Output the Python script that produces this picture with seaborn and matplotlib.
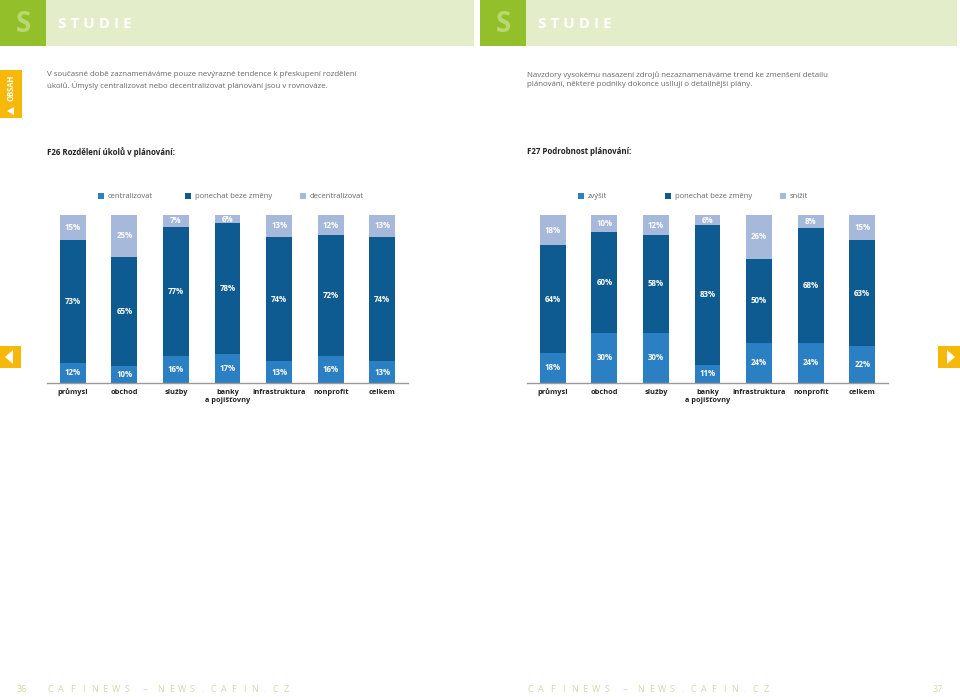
import matplotlib
matplotlib.use("Agg")
import matplotlib.pyplot as plt
from matplotlib.patches import Rectangle, Polygon
import seaborn as sns
import numpy as np
import pandas as pd

# --- data -------------------------------------------------------------
categories = ["průmysl", "obchod", "služby", "banky\na pojišťovny",
              "infrastruktura", "nonprofit", "celkem"]

# F26 Rozdělení úkolů v plánování
f26_labels = ["centralizovat", "ponechat beze změny", "decentralizovat"]
f26_central = [12, 10, 16, 17, 13, 16, 13]
f26_keep = [73, 65, 77, 78, 74, 72, 74]
f26_decentral = [15, 25, 7, 6, 13, 12, 13]

# F27 Podrobnost plánování
f27_labels = ["zvýšit", "ponechat beze změny", "snížit"]
f27_raise = [18, 30, 30, 11, 24, 24, 22]
f27_keep = [64, 60, 58, 83, 50, 68, 63]
f27_lower = [18, 10, 12, 6, 26, 8, 15]

# --- style ------------------------------------------------------------
sns.set_style("white")
plt.rcParams["font.family"] = ["Open Sans", "DejaVu Sans"]

C_MID = "#2a80c2"
C_DARK = "#0e5b92"
C_LIGHT = "#a7b9db"
GREEN = "#93c02a"
GREEN_BAND = "#e4edc9"
ORANGE = "#f6b90a"
FOOT = "#cfdca6"
TEXT = "#666666"

W, H = 960, 697
fig = plt.figure(figsize=(W / 100, H / 100), dpi=100)
fig.patch.set_facecolor("white")

# background axes in pixel coordinates for the page furniture
bg = fig.add_axes([0, 0, 1, 1])
bg.set_xlim(0, W)
bg.set_ylim(H, 0)
bg.axis("off")


def header(x0, x1):
    bg.add_patch(Rectangle((x0, 0), 46, 46, color=GREEN, lw=0))
    bg.add_patch(Rectangle((x0 + 46, 0), x1 - x0 - 46, 46, color=GREEN_BAND, lw=0))
    bg.text(x0 + 23, 25, "S", color="#b9d86f", fontsize=20, fontweight="bold",
            ha="center", va="center")
    bg.text(x0 + 58, 24, "S T U D I E", color="white", fontsize=11,
            fontweight="bold", ha="left", va="center")


header(0, 474)
header(480, 957)

# OBSAH tab and page arrows
bg.add_patch(Rectangle((0, 70), 22, 48, color=ORANGE, lw=0))
bg.text(11, 88, "OBSAH", rotation=90, color="white", fontsize=5.5,
        fontweight="bold", ha="center", va="center")
bg.add_patch(Polygon([[7, 111], [14, 107], [14, 115]], color="white", lw=0))
bg.add_patch(Rectangle((0, 346), 21, 22, color=ORANGE, lw=0))
bg.add_patch(Polygon([[5, 357], [13, 350], [13, 364]], color="white", lw=0))
bg.add_patch(Rectangle((938, 346), 22, 22, color=ORANGE, lw=0))
bg.add_patch(Polygon([[955, 357], [947, 350], [947, 364]], color="white", lw=0))

# intro texts
bg.text(47, 71, "V současné době zaznamenáváme pouze nevýrazné tendence k přeskupení rozdělení\n"
        "úkolů. Úmysly centralizovat nebo decentralizovat plánování jsou v rovnováze.",
        color=TEXT, fontsize=5.7, ha="left", va="top", linespacing=1.5)
bg.text(527, 71, "Navzdory vysokému nasazení zdrojů nezaznamenáváme trend ke zmenšení detailu\n"
        "plánování, některé podniky dokonce usilují o detailnější plány.",
        color=TEXT, fontsize=5.7, ha="left", va="top", linespacing=1.5)

# chart titles
bg.text(47, 152, "F26 Rozdělení úkolů v plánování:", color="#222222", fontsize=5.7,
        fontweight="bold", ha="left", va="center")
bg.text(527, 152, "F27 Podrobnost plánování:", color="#222222", fontsize=5.7,
        fontweight="bold", ha="left", va="center")


# footer with wide letter spacing
def footer(x0):
    for i, ch in enumerate("CAFINEWS"):
        bg.text(x0 + 11 * i, 690, ch, color=FOOT, fontsize=6.5,
                ha="center", va="center")
    bg.text(x0 + 95, 690, "–", color=FOOT, fontsize=6.5, ha="center", va="center")
    for i, ch in enumerate("NEWS.CAFIN.CZ"):
        bg.text(x0 + 111 + 10.4 * i, 690, ch, color=FOOT, fontsize=6.5,
                ha="center", va="center")


footer(50)
footer(530)
bg.text(22, 690, "36", color=FOOT, fontsize=6.5, ha="center", va="center")
bg.text(938, 690, "37", color=FOOT, fontsize=6.5, ha="center", va="center")


def legend(x0, labels):
    offsets = [0, 87, 202]
    colors = [C_MID, C_DARK, C_LIGHT]
    for off, lab, col in zip(offsets, labels, colors):
        bg.add_patch(Rectangle((x0 + off - 3, 193), 6, 6, color=col, lw=0))
        bg.text(x0 + off + 7, 196, lab, color=TEXT, fontsize=5.5,
                ha="left", va="center")


legend(101, f26_labels)
legend(581, f27_labels)


def stacked(left_px, bottom_vals, mid_vals, top_vals):
    ax = fig.add_axes([left_px / W, (H - 383) / H, 361 / W, 168 / H])
    bottom = np.array(bottom_vals)
    mid = np.array(mid_vals)
    top = np.array(top_vals)
    df = pd.DataFrame({"cat": categories,
                       "total": bottom + mid + top,
                       "lower2": bottom + mid,
                       "lower1": bottom})
    # draw cumulative sums, tallest first, so they appear stacked
    for col, color in [("total", C_LIGHT), ("lower2", C_DARK), ("lower1", C_MID)]:
        sns.barplot(data=df, x="cat", y=col, color=color, saturation=1,
                    width=0.5, ax=ax, linewidth=0)
    for i in range(len(categories)):
        segs = [(0, bottom[i]), (bottom[i], bottom[i] + mid[i]),
                (bottom[i] + mid[i], bottom[i] + mid[i] + top[i])]
        for (lo, hi) in segs:
            ax.text(i, (lo + min(hi, 100)) / 2, f"{hi - lo}%", color="white",
                    fontsize=5.7, fontweight="bold", ha="center", va="center")
    ax.set_xlim(-0.5, 6.5)
    ax.set_ylim(0, 100)
    ax.set_xlabel("")
    ax.set_ylabel("")
    ax.set_yticks([])
    ax.tick_params(axis="x", length=0, pad=4)
    for lab in ax.get_xticklabels():
        lab.set_fontsize(5.3)
        lab.set_fontweight("bold")
        lab.set_color("#222222")
        lab.set_verticalalignment("top")
    for s in ["top", "right", "left"]:
        ax.spines[s].set_visible(False)
    ax.spines["bottom"].set_color("#9a9a9a")
    ax.spines["bottom"].set_linewidth(1)
    ax.set_facecolor("none")
    return ax


stacked(47, f26_central, f26_keep, f26_decentral)
stacked(527, f27_raise, f27_keep, f27_lower)

fig.savefig("out.png", dpi=100, facecolor="white")
